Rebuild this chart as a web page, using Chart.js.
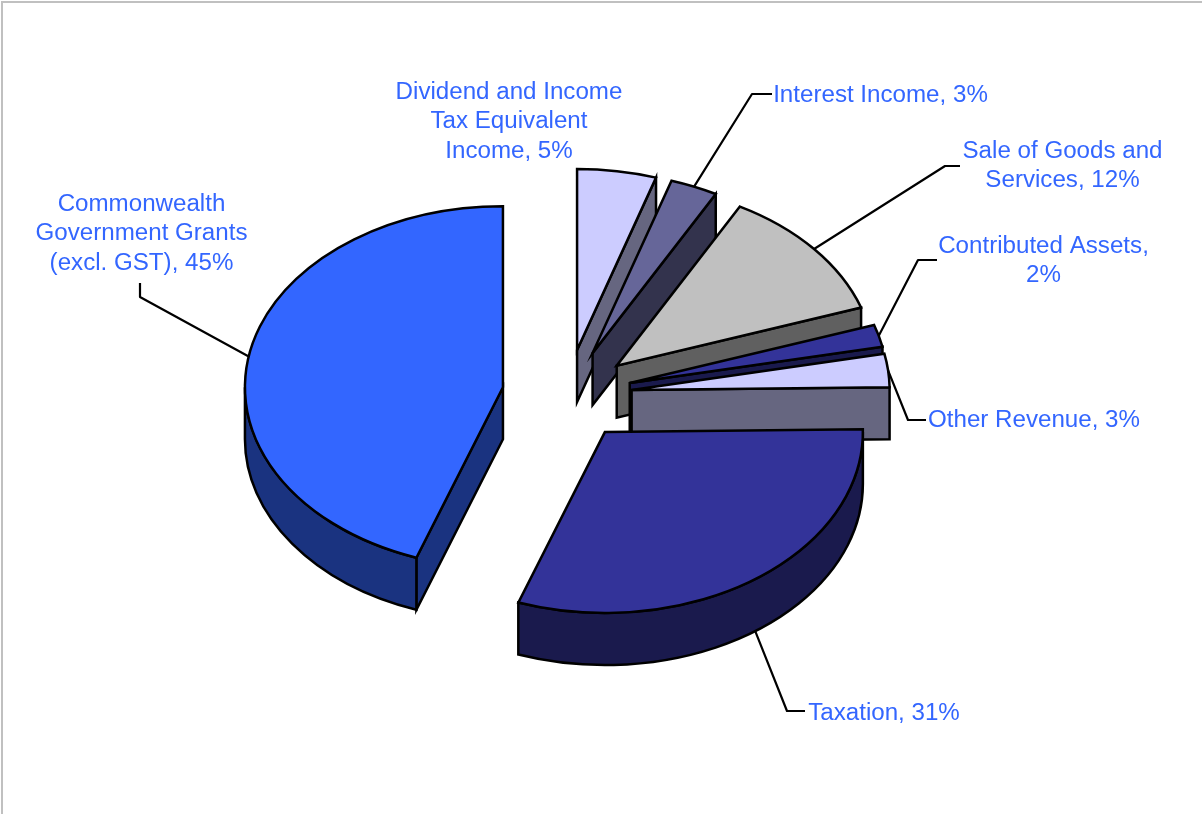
<!DOCTYPE html>
<html>
<head>
<meta charset="utf-8">
<title>Revenue by source</title>
<style>
  html, body { margin: 0; padding: 0; background: #fff; overflow: hidden; }
  canvas { display: block; }
</style>
<script src="https://cdn.jsdelivr.net/npm/chart.js@4/dist/chart.umd.js"></script>
</head>
<body>
<canvas id="revenue" width="1202" height="814"></canvas>
<script>
// Revenue shares in percent, clockwise from twelve o'clock.
const categories = [
  "Dividend and Income Tax Equivalent Income",
  "Interest Income",
  "Sale of Goods and Services",
  "Contributed Assets",
  "Other Revenue",
  "Taxation",
  "Commonwealth Government Grants (excl. GST)"
];
const shares = [5, 3, 12, 2, 3, 31, 45];
const sliceColors = ["#CCCCFF", "#666699", "#C0C0C0", "#333399", "#CCCCFF", "#333399", "#3366FF"];

// Label wording, one entry per line of text.
const labelLines = [
  ["Dividend and Income", "Tax Equivalent", "Income, 5%"],
  ["Interest Income, 3%"],
  ["Sale of Goods and", "Services, 12%"],
  ["Contributed Assets,", "2%"],
  ["Other Revenue, 3%"],
  ["Taxation, 31%"],
  ["Commonwealth", "Government Grants", "(excl. GST), 45%"]
];

// Placement of each label: centre x, centre y of first line.
const labelAnchors = [
  [509, 92], [880.5, 95], [1062.5, 151], [1043.5, 246], [1034, 420], [884, 713], [141.5, 204]
];
// Leader-line bends and ends; null where a label has no leader.
const leaderBends = [
  null,
  [[752, 94], [772, 94]],
  [[945, 166], [960, 166]],
  [[918, 260], [937, 260]],
  [[908, 420], [926, 420]],
  [[787, 711], [805, 711]],
  [[140, 297], [140, 283]]
];

const TILT = 0.7016;    // vertical squash of the pie disc
const DEPTH = 52;       // height of the side walls
const EXPLODE = 65;     // how far each slice is pulled from the centre
const OUTLINE = 2.5;

// Half-brightness shade used on the walls of a slice.
function wallShade(hex) {
  const n = parseInt(hex.slice(1), 16);
  const half = (v) => Math.round(v / 2);
  return `rgb(${half(n >> 16 & 255)},${half(n >> 8 & 255)},${half(n & 255)})`;
}

// Position of a slice's apex once it has been pulled out of the pie.
function apexOf(arc) {
  const mid = (arc.startAngle + arc.endAngle) / 2;
  return {
    x: arc.x + Math.cos(mid) * EXPLODE,
    y: arc.y + Math.sin(mid) * EXPLODE * TILT,
    mid
  };
}

// Pie slice drawn as a tilted, extruded wedge.
class Arc3D extends Chart.ArcElement {
  static id = "arc3d";

  draw(ctx) {
    const { startAngle: a0, endAngle: a1, outerRadius: r } = this;
    const { x, y } = apexOf(this);
    const ry = r * TILT;
    const fill = this.options.backgroundColor;
    const px = (a) => x + Math.cos(a) * r;
    const py = (a) => y + Math.sin(a) * ry;

    ctx.save();
    ctx.lineWidth = OUTLINE;
    ctx.strokeStyle = this.options.borderColor;
    ctx.lineJoin = "miter";
    ctx.fillStyle = wallShade(fill);

    const radialFace = (a) => {
      ctx.beginPath();
      ctx.moveTo(x, y);
      ctx.lineTo(px(a), py(a));
      ctx.lineTo(px(a), py(a) + DEPTH);
      ctx.lineTo(x, y + DEPTH);
      ctx.closePath();
      ctx.fill();
      ctx.stroke();
    };
    if (Math.cos(a0) < -1e-6) radialFace(a0);
    if (Math.cos(a1) > 1e-6) radialFace(a1);

    // Curved outer wall, only where the rim faces the viewer.
    const lo = Math.max(a0, 0);
    const hi = Math.min(a1, Math.PI);
    if (hi > lo) {
      ctx.beginPath();
      ctx.ellipse(x, y, r, ry, 0, lo, hi);
      ctx.lineTo(px(hi), py(hi) + DEPTH);
      ctx.ellipse(x, y + DEPTH, r, ry, 0, hi, lo, true);
      ctx.closePath();
      ctx.fill();
      ctx.stroke();
    }

    // Top face.
    ctx.fillStyle = fill;
    ctx.beginPath();
    ctx.moveTo(x, y);
    ctx.ellipse(x, y, r, ry, 0, a0, a1);
    ctx.closePath();
    ctx.fill();
    ctx.stroke();
    ctx.restore();
  }
}

class Pie3DController extends Chart.PieController {
  static id = "pie3d";
  static defaults = { dataElementType: "arc3d" };
}

Chart.register(Arc3D, Pie3DController);

// Frame along the top and left of the chart area.
const framePlugin = {
  id: "frame",
  beforeDraw(chart) {
    const { ctx, width, height } = chart;
    ctx.save();
    ctx.fillStyle = "#fff";
    ctx.fillRect(0, 0, width, height);
    ctx.strokeStyle = "#C0C0C0";
    ctx.lineWidth = 2;
    ctx.beginPath();
    ctx.moveTo(2, height);
    ctx.lineTo(2, 2);
    ctx.lineTo(width, 2);
    ctx.stroke();
    ctx.restore();
  }
};

// Category labels with their elbowed leader lines.
const sliceLabelPlugin = {
  id: "sliceLabels",
  afterDatasetsDraw(chart) {
    const { ctx } = chart;
    const arcs = chart.getDatasetMeta(0).data;
    ctx.save();
    ctx.strokeStyle = "#000";
    ctx.lineWidth = 2.2;
    ctx.lineJoin = "round";
    arcs.forEach((arc, i) => {
      const bends = leaderBends[i];
      if (!bends) return;
      const { x, y, mid } = apexOf(arc);
      const sy = Math.sin(mid);
      ctx.beginPath();
      ctx.moveTo(x + Math.cos(mid) * arc.outerRadius,
                 y + sy * arc.outerRadius * TILT + (sy > 0 ? DEPTH : 0));
      bends.forEach(([bx, by]) => ctx.lineTo(bx, by));
      ctx.stroke();
    });
    ctx.fillStyle = "#3366FF";
    ctx.font = '24.15px "Liberation Sans", Arial, sans-serif';
    ctx.textAlign = "center";
    ctx.textBaseline = "middle";
    labelLines.forEach((lines, i) => {
      const [cx, cy] = labelAnchors[i];
      lines.forEach((text, n) => ctx.fillText(text, cx, cy + n * 29.8));
    });
    ctx.restore();
  }
};

new Chart(document.getElementById("revenue"), {
  type: "pie3d",
  data: {
    labels: categories,
    datasets: [{
      data: shares,
      backgroundColor: sliceColors,
      borderColor: "#000",
      borderWidth: OUTLINE,
      radius: 258
    }]
  },
  options: {
    responsive: false,
    animation: false,
    events: [],
    layout: { padding: { left: 0, right: 68, top: 0, bottom: 24 } },
    plugins: { legend: { display: false }, tooltip: { enabled: false } }
  },
  plugins: [framePlugin, sliceLabelPlugin]
});
</script>
</body>
</html>
